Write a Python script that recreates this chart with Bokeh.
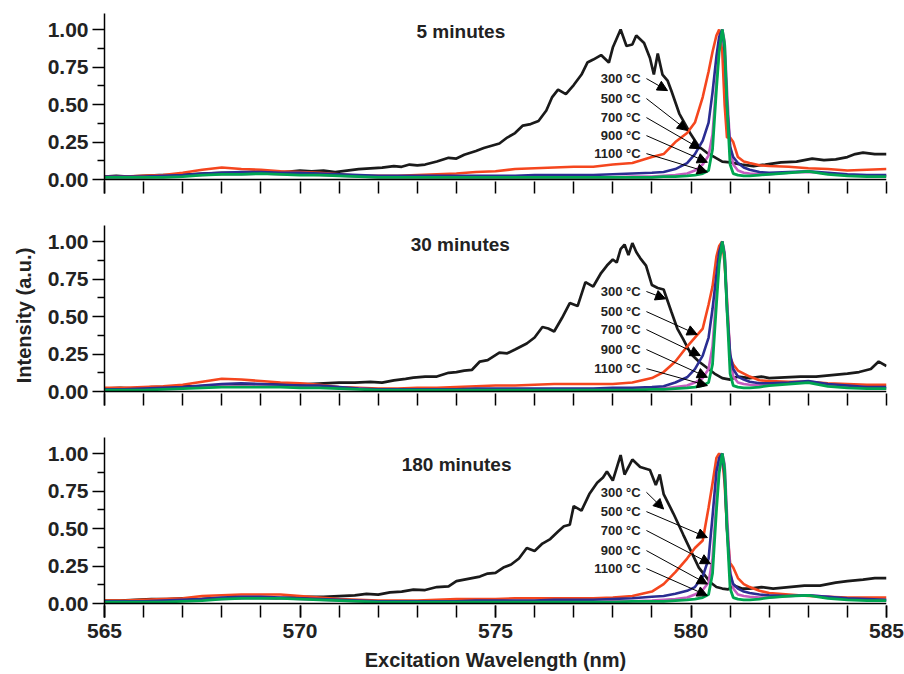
from bokeh.plotting import figure
from bokeh.models import (Range1d, FixedTicker, PrintfTickFormatter, Span, Label,
                          Arrow, NormalHead)
from bokeh.layouts import column
from bokeh.embed import file_html
from bokeh.resources import INLINE

# ---------------- data ----------------
# common wavelength grid (nm) for the 500/700/900/1100 °C spectra
GRID = [565.0, 565.5, 566.0, 566.5, 567.0, 567.5, 568.0, 568.5, 569.0, 569.5,
        570.0, 570.5, 571.0, 571.5, 572.0, 572.5, 573.0, 573.5, 574.0, 574.5,
        575.0, 575.5, 576.0, 576.5, 577.0, 577.5, 578.0, 578.5, 579.0,
        579.3, 579.6, 579.9, 580.1, 580.3, 580.45, 580.55, 580.65, 580.72, 580.8,
        580.86, 580.92, 581.0, 581.08, 581.2, 581.35, 581.5, 581.75,
        582.0, 582.5, 583.0, 583.5, 584.0, 584.5, 585.0]

# ---- 5 minutes ----
BLACK_X_5 = [565.0, 565.3, 565.6, 566.0, 566.4, 566.8, 567.2, 567.6, 568.0, 568.4, 568.8, 569.2,
             569.6, 570.0, 570.3, 570.6, 570.9, 571.2, 571.5, 571.8, 572.1, 572.4, 572.6, 572.8,
             573.0, 573.2, 573.5, 573.8, 574.0, 574.2, 574.5, 574.7, 574.9, 575.1, 575.3, 575.5,
             575.7, 575.9, 576.1, 576.3, 576.45, 576.6, 576.8, 577.0, 577.2, 577.35, 577.5, 577.7,
             577.9, 578.0, 578.2, 578.35, 578.5, 578.6, 578.8, 578.95, 579.05, 579.15, 579.27,
             579.4, 579.5, 579.7, 579.85, 580.0, 580.2, 580.4, 580.6, 580.8, 581.0, 581.3, 581.6,
             581.9, 582.3, 582.7, 583.1, 583.4, 583.7, 584.0, 584.2, 584.4, 584.7, 585.0]
BLACK_Y_5 = [0.02, 0.025, 0.02, 0.025, 0.03, 0.03, 0.035, 0.04, 0.045, 0.045, 0.05, 0.055,
             0.05, 0.06, 0.055, 0.06, 0.05, 0.06, 0.07, 0.075, 0.08, 0.09, 0.085, 0.1,
             0.095, 0.1, 0.12, 0.145, 0.14, 0.165, 0.19, 0.21, 0.225, 0.24, 0.28, 0.31,
             0.36, 0.37, 0.39, 0.46, 0.55, 0.6, 0.57, 0.63, 0.7, 0.78, 0.8, 0.83,
             0.78, 0.88, 1.0, 0.89, 0.9, 0.96, 0.91, 0.81, 0.7, 0.84, 0.7,
             0.66, 0.59, 0.44, 0.37, 0.3, 0.22, 0.18, 0.15, 0.12, 0.115, 0.1, 0.09,
             0.1, 0.115, 0.12, 0.14, 0.13, 0.135, 0.15, 0.17, 0.18, 0.17, 0.17]
RED_5 = [0.02, 0.02, 0.025, 0.03, 0.045, 0.065, 0.08, 0.07, 0.065, 0.055,
         0.05, 0.045, 0.035, 0.025, 0.025, 0.025, 0.03, 0.035, 0.04, 0.05,
         0.055, 0.07, 0.075, 0.08, 0.085, 0.085, 0.1, 0.11, 0.15,
         0.17, 0.25, 0.31, 0.38, 0.55, 0.72, 0.85, 0.96, 1.0, 0.85,
         0.5, 0.28, 0.28, 0.25, 0.15, 0.12, 0.11, 0.095,
         0.09, 0.085, 0.075, 0.07, 0.06, 0.065, 0.07]
BLUE_5 = [0.02, 0.02, 0.02, 0.025, 0.03, 0.04, 0.045, 0.05, 0.05, 0.045,
          0.045, 0.04, 0.035, 0.03, 0.025, 0.025, 0.025, 0.025, 0.025, 0.025,
          0.025, 0.025, 0.03, 0.03, 0.03, 0.03, 0.035, 0.04, 0.045,
          0.05, 0.07, 0.11, 0.17, 0.26, 0.38, 0.58, 0.82, 0.95, 1.0,
          0.85, 0.5, 0.22, 0.15, 0.11, 0.08, 0.065, 0.05,
          0.045, 0.05, 0.055, 0.045, 0.035, 0.03, 0.03]
PURPLE_5 = [0.015, 0.015, 0.015, 0.02, 0.025, 0.03, 0.035, 0.035, 0.04, 0.035,
            0.035, 0.03, 0.025, 0.02, 0.015, 0.015, 0.015, 0.015, 0.015, 0.015,
            0.015, 0.015, 0.015, 0.015, 0.015, 0.015, 0.015, 0.02, 0.02,
            0.025, 0.03, 0.04, 0.06, 0.1, 0.16, 0.3, 0.65, 0.88, 1.0,
            0.92, 0.6, 0.22, 0.1, 0.06, 0.045, 0.04, 0.035,
            0.035, 0.045, 0.05, 0.04, 0.03, 0.025, 0.025]
GREEN_5 = [0.015, 0.015, 0.015, 0.015, 0.02, 0.03, 0.035, 0.035, 0.04, 0.035,
           0.03, 0.03, 0.025, 0.02, 0.015, 0.015, 0.015, 0.015, 0.015, 0.015,
           0.015, 0.015, 0.015, 0.015, 0.015, 0.015, 0.015, 0.015, 0.015,
           0.02, 0.02, 0.025, 0.03, 0.04, 0.06, 0.2, 0.6, 0.85, 1.0,
           0.9, 0.5, 0.1, 0.04, 0.03, 0.025, 0.025, 0.03,
           0.035, 0.045, 0.055, 0.035, 0.025, 0.02, 0.02]

# ---- 30 minutes ----
BLACK_X_30 = [565.0, 565.4, 565.8, 566.2, 566.6, 567.0, 567.4, 567.8, 568.2, 568.6, 569.0, 569.4,
              569.8, 570.2, 570.6, 571.0, 571.4, 571.8, 572.1, 572.4, 572.7, 572.9, 573.2, 573.5,
              573.8, 574.0, 574.2, 574.4, 574.6, 574.8, 575.1, 575.3, 575.5, 575.8, 576.0, 576.2,
              576.35, 576.5, 576.7, 576.9, 577.1, 577.3, 577.5, 577.7, 577.85, 578.0, 578.1, 578.2,
              578.3, 578.4, 578.5, 578.6, 578.7, 578.85, 579.0, 579.15, 579.3, 579.5, 579.65, 579.8,
              580.0, 580.2, 580.4, 580.6, 580.8, 581.0, 581.2, 581.5, 581.8, 582.0, 582.4, 582.8,
              583.2, 583.6, 584.0, 584.3, 584.6, 584.8, 585.0]
BLACK_Y_30 = [0.02, 0.025, 0.02, 0.03, 0.03, 0.035, 0.035, 0.04, 0.04, 0.045, 0.045, 0.05,
              0.05, 0.05, 0.055, 0.06, 0.06, 0.065, 0.06, 0.075, 0.085, 0.093, 0.1, 0.1,
              0.125, 0.13, 0.14, 0.145, 0.2, 0.21, 0.26, 0.255, 0.28, 0.32, 0.36, 0.43,
              0.42, 0.4, 0.49, 0.59, 0.57, 0.73, 0.7, 0.79, 0.84, 0.88, 0.86, 0.95,
              0.98, 0.91, 0.99, 0.93, 0.89, 0.84, 0.71, 0.69, 0.68, 0.53, 0.42, 0.35,
              0.25, 0.2, 0.16, 0.12, 0.09, 0.08, 0.1, 0.09, 0.1, 0.09, 0.095, 0.1,
              0.1, 0.11, 0.12, 0.13, 0.15, 0.2, 0.17]
RED_30 = [0.025, 0.025, 0.03, 0.035, 0.045, 0.065, 0.085, 0.08, 0.07, 0.06,
          0.055, 0.045, 0.03, 0.025, 0.02, 0.02, 0.025, 0.025, 0.03, 0.035,
          0.04, 0.04, 0.045, 0.05, 0.05, 0.05, 0.05, 0.06, 0.09,
          0.13, 0.2, 0.3, 0.36, 0.42, 0.58, 0.7, 0.9, 0.97, 1.0,
          0.85, 0.6, 0.23, 0.18, 0.14, 0.12, 0.1, 0.075,
          0.07, 0.065, 0.065, 0.055, 0.05, 0.045, 0.045]
BLUE_30 = [0.015, 0.015, 0.02, 0.025, 0.03, 0.04, 0.05, 0.055, 0.05, 0.045,
           0.04, 0.04, 0.03, 0.02, 0.015, 0.015, 0.015, 0.015, 0.015, 0.02,
           0.02, 0.02, 0.02, 0.02, 0.02, 0.02, 0.025, 0.025, 0.03,
           0.035, 0.06, 0.095, 0.15, 0.24, 0.36, 0.55, 0.78, 0.93, 1.0,
           0.9, 0.55, 0.25, 0.15, 0.1, 0.08, 0.065, 0.055,
           0.055, 0.06, 0.07, 0.05, 0.04, 0.03, 0.03]
PURPLE_30 = [0.01, 0.01, 0.015, 0.02, 0.025, 0.03, 0.035, 0.035, 0.035, 0.035,
             0.03, 0.03, 0.025, 0.02, 0.01, 0.01, 0.01, 0.01, 0.01, 0.01,
             0.01, 0.01, 0.01, 0.01, 0.01, 0.01, 0.015, 0.015, 0.02,
             0.02, 0.03, 0.04, 0.06, 0.09, 0.15, 0.3, 0.65, 0.88, 1.0,
             0.93, 0.62, 0.25, 0.1, 0.06, 0.05, 0.045, 0.04,
             0.045, 0.055, 0.065, 0.045, 0.03, 0.025, 0.02]
GREEN_30 = [0.01, 0.01, 0.01, 0.015, 0.02, 0.025, 0.03, 0.03, 0.03, 0.03,
            0.025, 0.025, 0.02, 0.015, 0.01, 0.01, 0.01, 0.01, 0.01, 0.01,
            0.01, 0.01, 0.01, 0.01, 0.01, 0.01, 0.01, 0.01, 0.015,
            0.015, 0.02, 0.025, 0.03, 0.04, 0.06, 0.18, 0.58, 0.85, 1.0,
            0.9, 0.55, 0.12, 0.04, 0.03, 0.025, 0.025, 0.03,
            0.04, 0.05, 0.06, 0.035, 0.025, 0.02, 0.02]

# ---- 180 minutes ----
BLACK_X_180 = [565.0, 565.4, 565.8, 566.2, 566.6, 567.0, 567.4, 567.8, 568.2, 568.6, 569.0, 569.4,
               569.8, 570.2, 570.6, 571.0, 571.4, 571.7, 572.0, 572.3, 572.6, 572.9, 573.2, 573.5,
               573.8, 574.0, 574.2, 574.4, 574.6, 574.8, 575.0, 575.2, 575.4, 575.6, 575.8, 576.0,
               576.2, 576.4, 576.6, 576.75, 576.9, 577.0, 577.2, 577.4, 577.6, 577.75, 577.85, 578.0,
               578.2, 578.3, 578.5, 578.7, 578.95, 579.1, 579.2, 579.3, 579.55, 579.8, 580.0, 580.2,
               580.35, 580.5, 580.65, 580.8, 580.95, 581.1, 581.3, 581.5, 581.8, 582.1, 582.5, 582.9,
               583.3, 583.7, 584.0, 584.4, 584.7, 585.0]
BLACK_Y_180 = [0.02, 0.02, 0.025, 0.03, 0.03, 0.035, 0.03, 0.035, 0.035, 0.04, 0.04, 0.035,
               0.04, 0.045, 0.045, 0.05, 0.055, 0.065, 0.06, 0.075, 0.08, 0.093, 0.09, 0.11,
               0.115, 0.15, 0.16, 0.17, 0.18, 0.2, 0.205, 0.24, 0.26, 0.3, 0.37, 0.35,
               0.4, 0.43, 0.48, 0.515, 0.525, 0.65, 0.62, 0.73, 0.805, 0.84, 0.88, 0.82,
               0.99, 0.86, 0.96, 0.91, 0.89, 0.79, 0.86, 0.73, 0.6, 0.46, 0.35, 0.24,
               0.19, 0.14, 0.11, 0.1, 0.095, 0.12, 0.1, 0.1, 0.11, 0.1, 0.11, 0.12,
               0.12, 0.14, 0.15, 0.16, 0.17, 0.17]
RED_180 = [0.02, 0.02, 0.025, 0.03, 0.035, 0.05, 0.055, 0.06, 0.06, 0.06,
           0.05, 0.04, 0.03, 0.025, 0.02, 0.02, 0.02, 0.025, 0.03, 0.03,
           0.03, 0.035, 0.035, 0.035, 0.035, 0.035, 0.04, 0.05, 0.08,
           0.13, 0.21, 0.3, 0.37, 0.42, 0.64, 0.8, 0.97, 1.0, 0.97,
           0.8, 0.5, 0.27, 0.24, 0.17, 0.13, 0.11, 0.085,
           0.07, 0.06, 0.05, 0.045, 0.04, 0.04, 0.04]
BLUE_180 = [0.015, 0.015, 0.015, 0.02, 0.025, 0.03, 0.04, 0.045, 0.045, 0.04,
            0.035, 0.03, 0.025, 0.02, 0.015, 0.015, 0.015, 0.015, 0.015, 0.02,
            0.02, 0.02, 0.02, 0.025, 0.025, 0.025, 0.03, 0.035, 0.045,
            0.05, 0.065, 0.085, 0.11, 0.18, 0.3, 0.58, 0.88, 0.97, 1.0,
            0.85, 0.5, 0.2, 0.13, 0.1, 0.08, 0.07, 0.06,
            0.055, 0.05, 0.055, 0.045, 0.035, 0.03, 0.025]
PURPLE_180 = [0.01, 0.01, 0.01, 0.015, 0.02, 0.025, 0.03, 0.035, 0.035, 0.035,
              0.03, 0.025, 0.02, 0.015, 0.01, 0.01, 0.01, 0.01, 0.01, 0.01,
              0.01, 0.01, 0.01, 0.01, 0.01, 0.01, 0.015, 0.015, 0.02,
              0.025, 0.03, 0.04, 0.06, 0.09, 0.14, 0.3, 0.68, 0.9, 1.0,
              0.93, 0.6, 0.22, 0.1, 0.06, 0.05, 0.045, 0.04,
              0.04, 0.05, 0.055, 0.045, 0.03, 0.025, 0.02]
GREEN_180 = [0.01, 0.01, 0.01, 0.01, 0.015, 0.02, 0.03, 0.035, 0.035, 0.035,
             0.03, 0.025, 0.02, 0.015, 0.01, 0.01, 0.01, 0.01, 0.01, 0.01,
             0.01, 0.01, 0.01, 0.01, 0.01, 0.01, 0.01, 0.015, 0.015,
             0.015, 0.02, 0.025, 0.03, 0.04, 0.06, 0.2, 0.62, 0.87, 1.0,
             0.9, 0.5, 0.1, 0.04, 0.03, 0.025, 0.025, 0.03,
             0.04, 0.05, 0.055, 0.035, 0.025, 0.02, 0.02]

PANEL_TITLES = ["5 minutes", "30 minutes", "180 minutes"]
TITLE_X = [572.98, 572.83, 572.6]
TITLE_Y = [0.99, 0.98, 0.93]

TEMP_LABELS = ["300 °C", "500 °C", "700 °C", "900 °C", "1100 °C"]
LABEL_X = 578.71
ARROW_TAIL_X = 578.86
LABEL_Y = [[0.673, 0.54, 0.413, 0.293, 0.173],
           [0.667, 0.533, 0.413, 0.28, 0.153],
           [0.742, 0.613, 0.487, 0.353, 0.233]]
ARROW_HEAD_X = [[579.40, 579.91, 580.24, 580.42, 580.42],
                [579.35, 580.16, 580.24, 580.42, 580.42],
                [579.30, 580.42, 580.50, 580.42, 580.42]]
ARROW_HEAD_Y = [[0.593, 0.327, 0.205, 0.115, 0.05],
                [0.618, 0.38, 0.24, 0.095, 0.04],
                [0.63, 0.44, 0.265, 0.13, 0.053]]

X_MAJOR = [565, 570, 575, 580, 585]
X_MINOR = list(range(565, 586))
Y_MAJOR = [0.0, 0.25, 0.5, 0.75, 1.0]
Y_MINOR = [0.125, 0.375, 0.625, 0.875]

PANELS = [
    (BLACK_X_5, BLACK_Y_5, RED_5, BLUE_5, PURPLE_5, GREEN_5),
    (BLACK_X_30, BLACK_Y_30, RED_30, BLUE_30, PURPLE_30, GREEN_30),
    (BLACK_X_180, BLACK_Y_180, RED_180, BLUE_180, PURPLE_180, GREEN_180),
]

# ---------------- styling ----------------
FONT = "Liberation Sans"
C_BLACK = "#1a1a1a"
C_RED = "#f5461e"
C_BLUE = "#2a2d92"
C_PURPLE = "#c65cc0"
C_GREEN = "#00a651"
TXT = "#222222"

figs = []
for i, (bx, by, red, blue, purple, green) in enumerate(PANELS):
    last = (i == 2)
    h = 250 if last else 212
    p = figure(width=904, height=h, output_backend="svg", toolbar_location=None,
               x_range=Range1d(565, 585), y_range=Range1d(-0.093, 1.107),
               min_border_left=104, min_border_right=18, min_border_top=13,
               min_border_bottom=57 if last else 19)
    p.outline_line_color = None
    p.xgrid.visible = False
    p.ygrid.visible = False
    p.background_fill_color = "white"
    p.border_fill_color = "white"

    # y axis
    ya = p.yaxis[0]
    ya.ticker = FixedTicker(ticks=Y_MAJOR, minor_ticks=Y_MINOR)
    ya.formatter = PrintfTickFormatter(format="%.2f")
    ya.axis_line_width = 1.5
    ya.axis_line_color = "black"
    ya.major_tick_out = 12
    ya.major_tick_in = 0
    ya.minor_tick_out = 7
    ya.minor_tick_in = 0
    ya.major_tick_line_width = 1.5
    ya.minor_tick_line_width = 1.5
    ya.major_label_text_font = FONT
    ya.major_label_text_font_style = "bold"
    ya.major_label_text_font_size = "21px"
    ya.major_label_text_color = TXT
    ya.major_label_standoff = 4
    if i == 1:
        ya.axis_label = "Intensity (a.u.)"
        ya.axis_label_text_font = FONT
        ya.axis_label_text_font_style = "bold"
        ya.axis_label_text_font_size = "20px"
        ya.axis_label_text_color = TXT
        ya.axis_label_standoff = 10

    # x axis: ticks drawn inside the frame, hanging from the zero line
    xa = p.xaxis[0]
    if last:
        xa.ticker = FixedTicker(ticks=X_MAJOR, minor_ticks=X_MINOR)
        xa.major_label_text_font = FONT
        xa.major_label_text_font_style = "bold"
        xa.major_label_text_font_size = "21px"
        xa.major_label_text_color = TXT
        xa.major_label_standoff = 6
        xa.axis_label = "Excitation Wavelength (nm)"
        xa.axis_label_text_font = FONT
        xa.axis_label_text_font_style = "bold"
        xa.axis_label_text_font_size = "20px"
        xa.axis_label_text_color = TXT
        xa.axis_label_standoff = 8
    else:
        # unlabeled: all ticks as minor ticks
        xa.ticker = FixedTicker(ticks=[], minor_ticks=X_MINOR)
    xa.axis_line_color = None
    xa.major_tick_in = 12
    xa.major_tick_out = 0
    xa.minor_tick_in = 12
    xa.minor_tick_out = 0
    xa.major_tick_line_width = 1.5
    xa.minor_tick_line_width = 1.5

    p.add_layout(Span(location=0, dimension="width", line_color="black", line_width=1.5))

    p.line(bx, by, line_color=C_BLACK, line_width=2.7)
    p.line(GRID, red, line_color=C_RED, line_width=2.6)
    p.line(GRID, purple, line_color=C_PURPLE, line_width=2.6)
    p.line(GRID, blue, line_color=C_BLUE, line_width=2.6)
    p.line(GRID, green, line_color=C_GREEN, line_width=2.8)

    p.add_layout(Label(x=TITLE_X[i], y=TITLE_Y[i], text=PANEL_TITLES[i],
                       text_font=FONT, text_font_style="bold", text_font_size="19px",
                       text_color=TXT, text_baseline="middle", text_align="left"))

    for k, lab in enumerate(TEMP_LABELS):
        ly = LABEL_Y[i][k]
        p.add_layout(Label(x=LABEL_X, y=ly, text=lab, text_font=FONT,
                           text_font_style="bold", text_font_size="13px",
                           text_color=TXT, text_baseline="middle", text_align="right"))
        p.add_layout(Arrow(end=NormalHead(size=10, fill_color="black", line_color="black"),
                           x_start=ARROW_TAIL_X, y_start=ly,
                           x_end=ARROW_HEAD_X[i][k], y_end=ARROW_HEAD_Y[i][k],
                           line_color="black", line_width=1))
    figs.append(p)

layout = column(*figs)
open("out.html", "w").write(file_html(layout, INLINE))
